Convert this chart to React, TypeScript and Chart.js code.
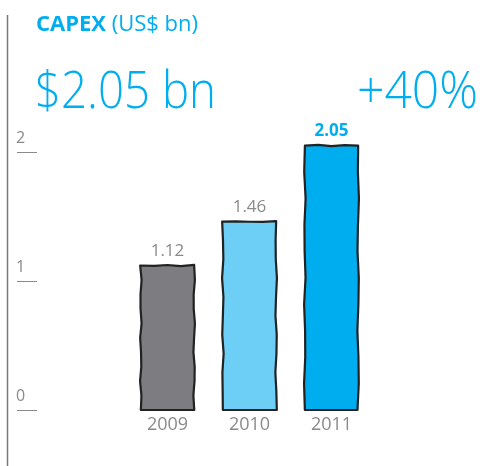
import React, { useEffect, useRef } from "react";
import { Chart, registerables } from "chart.js";

Chart.register(...registerables);

const years = ["2009", "2010", "2011"];
const capex = [1.12, 1.46, 2.05];
const valueLabels = ["1.12", "1.46", "2.05"];
const barColors = ["#7d7c81", "#6dcff6", "#00aeef"];
const tickValues = [0, 1, 2];
const tickLabels = ["0", "1", "2"];
const titleBold = "CAPEX";
const titleRest = " (US$ bn)";
const headline = "$2.05 bn";
const growth = "+40%";

const CYAN = "#00aeef";
const GRAY = "#8a8a8a";
const FONT = "'Open Sans', 'Noto Sans', sans-serif";

function fitText(ctx: CanvasRenderingContext2D, text: string, x: number, y: number, w: number) {
  const m = ctx.measureText(text).width;
  ctx.save();
  ctx.translate(x, y);
  ctx.scale(w / m, 1);
  ctx.fillText(text, 0, 0);
  ctx.restore();
}

const decor = {
  id: "decor",
  afterDatasetsDraw(chart: any) {
    const ctx: CanvasRenderingContext2D = chart.ctx;
    const yScale = chart.scales.y;
    const xScale = chart.scales.x;
    const meta = chart.getDatasetMeta(0);
    ctx.save();
    // hand-drawn style outlines
    meta.data.forEach((bar: any, i: number) => {
      const l = bar.x - bar.width / 2;
      const r = bar.x + bar.width / 2;
      const t = bar.y;
      const b = bar.base;
      ctx.beginPath();
      ctx.strokeStyle = "#222";
      ctx.lineWidth = 2.2;
      ctx.lineJoin = "round";
      const amp = 0.8;
      const steps = 10;
      ctx.moveTo(l, b);
      for (let s = 1; s <= steps; s++) {
        const yy = b + (t - b) * (s / steps);
        ctx.lineTo(l + amp * Math.sin(s * 2.3 + i * 1.1), yy);
      }
      for (let s = 1; s <= 4; s++) {
        const xx = l + (r - l) * (s / 4);
        ctx.lineTo(xx, t + 0.7 * Math.sin(s * 2.7 + i));
      }
      for (let s = 1; s <= steps; s++) {
        const yy = t + (b - t) * (s / steps);
        ctx.lineTo(r + amp * Math.sin(s * 1.9 + i * 2), yy);
      }
      ctx.closePath();
      ctx.stroke();
    });
    // value labels
    meta.data.forEach((bar: any, i: number) => {
      ctx.textAlign = "center";
      ctx.textBaseline = "alphabetic";
      if (i === capex.length - 1) {
        ctx.fillStyle = CYAN;
        ctx.font = `bold 17px ${FONT}`;
      } else {
        ctx.fillStyle = GRAY;
        ctx.font = `17px ${FONT}`;
      }
      ctx.fillText(valueLabels[i], bar.x, bar.y - 10);
    });
    // year labels
    ctx.fillStyle = GRAY;
    ctx.font = `18px ${FONT}`;
    ctx.textAlign = "center";
    years.forEach((yr, i) => {
      ctx.fillText(yr, xScale.getPixelForValue(i), yScale.getPixelForValue(0) + 20);
    });
    // y ticks
    ctx.textAlign = "left";
    ctx.font = `16px ${FONT}`;
    tickValues.forEach((v, i) => {
      const py = Math.round(yScale.getPixelForValue(v)) + 0.5;
      ctx.fillStyle = GRAY;
      ctx.fillText(tickLabels[i], 16, py - 10);
      ctx.beginPath();
      ctx.strokeStyle = "#8a8a8a";
      ctx.lineWidth = 1;
      ctx.moveTo(17, py);
      ctx.lineTo(37, py);
      ctx.stroke();
    });
    // vertical rule
    ctx.beginPath();
    ctx.strokeStyle = "#7a7a7a";
    ctx.lineWidth = 1.5;
    ctx.moveTo(7.5, 15);
    ctx.lineTo(7.5, 466);
    ctx.stroke();
    // titles
    ctx.textAlign = "left";
    ctx.fillStyle = CYAN;
    ctx.font = `bold 22px ${FONT}`;
    ctx.fillText(titleBold, 36, 31);
    const bw = ctx.measureText(titleBold).width;
    ctx.font = `22px ${FONT}`;
    ctx.fillText(titleRest, 36 + bw, 31);
    ctx.font = `300 52px ${FONT}`;
    fitText(ctx, headline, 35, 108, 181);
    fitText(ctx, growth, 357, 108, 121);
    ctx.restore();
  },
};

export default function App() {
  const ref = useRef<HTMLCanvasElement>(null);
  useEffect(() => {
    if (!ref.current) return;
    const chart = new Chart(ref.current, {
      type: "bar",
      data: {
        labels: years,
        datasets: [
          {
            data: capex,
            backgroundColor: barColors,
            borderWidth: 0,
            barPercentage: 0.65,
            categoryPercentage: 1,
          },
        ],
      },
      options: {
        animation: false,
        responsive: false,
        layout: { padding: { top: 87.5, bottom: 56, left: 126.5, right: 113.5 } },
        plugins: { legend: { display: false }, tooltip: { enabled: false } },
        scales: {
          x: { display: false, offset: true },
          y: { display: false, min: 0, max: 2.5 },
        },
      },
      plugins: [decor],
    });
    return () => chart.destroy();
  }, []);
  return (
    <div style={{ position: "absolute", left: 0, top: 0, width: 486, height: 466, background: "#fff" }}>
      <canvas ref={ref} width={486} height={466} style={{ width: 486, height: 466, display: "block" }} />
    </div>
  );
}
